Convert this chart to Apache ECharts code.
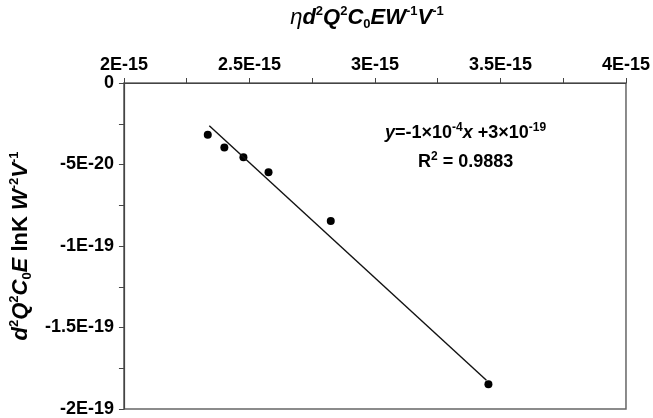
<!DOCTYPE html>
<html><head><meta charset="utf-8">
<script src="https://cdn.jsdelivr.net/npm/echarts@6/dist/echarts.min.js"></script>
<style>html,body{margin:0;padding:0;background:#fff}#c{width:653px;height:418px}</style>
</head><body><div id="c"></div>
<script>
// Data
const xValues = [2.334e-15, 2.400e-15, 2.476e-15, 2.576e-15, 2.824e-15, 3.452e-15];
const yValues = [-3.17e-20, -3.96e-20, -4.56e-20, -5.47e-20, -8.47e-20, -18.48e-20];
const fitX = [2.340e-15, 3.444e-15];
const fitY = [-2.62e-20, -18.24e-20];
const xTickLabels = ['2E-15', '2.5E-15', '3E-15', '3.5E-15', '4E-15'];
const yTickLabels = ['-2E-19', '-1.5E-19', '-1E-19', '-5E-20', '0'];
const xMin = 2e-15, xMax = 4e-15, xStep = 0.5e-15;
const yMin = -2e-19, yMax = 0, yStep = 5e-20;
const equationText = ['y', '=-1×10', '-4', 'x', '+3×10', '-19'];

// unit scaling to avoid floating-point trouble with tiny numbers
const XS = 1e-15, YS = 1e-20;
const sx = v => v / XS, sy = v => v / YS;

const FONT = '"Liberation Sans", Arial, sans-serif';
const chart = echarts.init(document.getElementById('c'));

function richSet(fs, ss) {
  return {
    n: {fontFamily: FONT, fontWeight: 'bold', fontSize: fs, fontStyle: 'normal', color: '#000', lineHeight: fs + 4},
    i: {fontFamily: FONT, fontWeight: 'bold', fontSize: fs, fontStyle: 'italic', color: '#000', lineHeight: fs + 4},
    sym: {fontFamily: FONT, fontSize: fs, fontStyle: 'italic', color: '#000', lineHeight: fs + 4},
    sup: {fontFamily: FONT, fontWeight: 'bold', fontSize: ss, color: '#000', verticalAlign: 'top', lineHeight: fs + 4},
    sub: {fontFamily: FONT, fontWeight: 'bold', fontSize: ss, color: '#000', verticalAlign: 'bottom', lineHeight: fs}
  };
}

const option = {
  backgroundColor: '#fff',
  animation: false,
  grid: {left: 122, right: 24, top: 78, bottom: 7, show: true, borderColor: '#666', borderWidth: 1.5, backgroundColor: 'transparent'},
  xAxis: {
    type: 'value', position: 'top',
    min: sx(xMin), max: sx(xMax), interval: sx(xStep),
    name: '{sym|η}{i|d}{sup|2}{i|Q}{sup|2}{i|C}{sub|0}{i|EW}{sup|-1}{i|V}{sup|-1}',
    nameLocation: 'middle', nameGap: 52,
    nameTextStyle: {rich: richSet(22, 13), padding: [0, 16, 0, 0]},
    axisLine: {show: true, onZero: false, lineStyle: {color: '#444', width: 1.2}},
    axisTick: {show: true, length: 5, lineStyle: {color: '#444'}},
    minorTick: {show: true, splitNumber: 2, length: 5, lineStyle: {color: '#444'}},
    splitLine: {show: false},
    axisLabel: {
      margin: 9, color: '#000', fontFamily: FONT, fontWeight: 'bold', fontSize: 18,
      formatter: v => xTickLabels[Math.round((v - sx(xMin)) / sx(xStep))] || ''
    }
  },
  yAxis: {
    type: 'value',
    min: sy(yMin), max: sy(yMax), interval: sy(yStep),
    name: '{i|d}{sup|2}{i|Q}{sup|2}{i|C}{sub|0}{i|E}{n| lnK }{i|W}{sup|-2}{i|V}{sup|-1}',
    nameLocation: 'middle', nameGap: 80, nameRotate: 90,
    nameTextStyle: {rich: richSet(22, 13)},
    axisLine: {show: true, onZero: false, lineStyle: {color: '#444', width: 1.2}},
    axisTick: {show: true, length: 5, lineStyle: {color: '#444'}},
    minorTick: {show: true, splitNumber: 2, length: 5, lineStyle: {color: '#444'}},
    splitLine: {show: false},
    axisLabel: {
      margin: 10, color: '#000', fontFamily: FONT, fontWeight: 'bold', fontSize: 18,
      formatter: v => yTickLabels[Math.round((v - sy(yMin)) / sy(yStep))] || ''
    }
  },
  series: [
    {
      type: 'line', data: fitX.map((x, k) => [sx(x), sy(fitY[k])]),
      symbol: 'none', lineStyle: {color: '#111', width: 1.4}, silent: true
    },
    {
      type: 'scatter', data: xValues.map((x, k) => [sx(x), sy(yValues[k])]),
      symbol: 'circle', symbolSize: 8, itemStyle: {color: '#000', opacity: 1}
    }
  ],
  graphic: [
    {
      type: 'text', left: 385, top: 122,
      style: {
        text: '{i|' + equationText[0] + '}{n|' + equationText[1] + '}{sup|' + equationText[2] + '}{i|' + equationText[3] + '}{n| ' + equationText[4] + '}{sup|' + equationText[5] + '}',
        rich: richSet(18, 12)
      }
    },
    {
      type: 'text', left: 418, top: 151,
      style: {
        text: '{n|R}{sup|2}{n| = 0.9883}',
        rich: richSet(18, 12)
      }
    }
  ]
};
chart.setOption(option);
</script>
</body></html>
